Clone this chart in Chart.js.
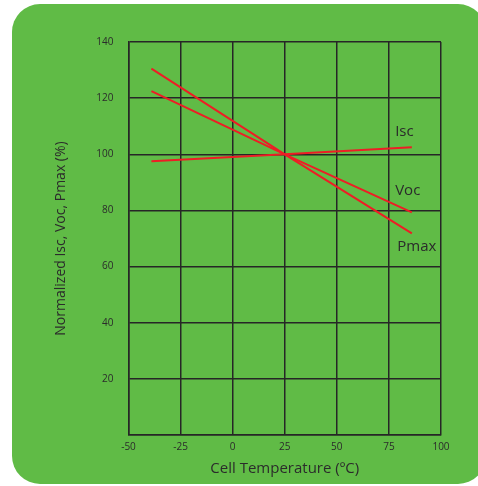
<!DOCTYPE html>
<html>
<head>
<meta charset="utf-8">
<script src="https://cdn.jsdelivr.net/npm/chart.js@4"></script>
<style>
  html, body { margin: 0; padding: 0; background: #fff; }
  #wrap { position: relative; width: 478px; height: 486px; overflow: hidden; }
  #card { position: absolute; left: 12px; top: 4px; width: 474px; height: 480px;
          background: #60bb46; border-radius: 28px; }
  #myChart { position: absolute; left: 0; top: 0; }
</style>
</head>
<body>
<div id="wrap">
  <div id="card"></div>
  <canvas id="myChart" width="478" height="486"></canvas>
</div>
<script>
  // temperatures (deg C) where each line was read
  const temps = [-39, 25, 86];
  const isc = [97.5, 100, 102.5];
  const voc = [122.5, 100, 79.3];
  const pmax = [130.5, 100, 71.8];

  const xTicks = [-50, -25, 0, 25, 50, 75, 100];
  const yTicks = [0, 20, 40, 60, 80, 100, 120, 140];

  // series names and where they are written (data coords)
  const seriesNames = ['Isc', 'Voc', 'Pmax'];
  const nameX = [78, 78, 79];
  const nameY = [108.2, 87.1, 67.1];

  const red = '#ee1d25';
  const gridColor = '#262626';
  const textColor = '#2b2b2b';
  const fam = '"Open Sans", "DejaVu Sans", sans-serif';

  function mk(label, vals) {
    return {
      label: label,
      data: temps.map((t, i) => ({ x: t, y: vals[i] })),
      borderColor: red,
      borderWidth: 2,
      pointRadius: 0,
      tension: 0,
      fill: false
    };
  }

  const namesPlugin = {
    id: 'names',
    afterDatasetsDraw(chart) {
      const ctx = chart.ctx;
      const xs = chart.scales.x, ys = chart.scales.y;
      ctx.save();
      ctx.fillStyle = textColor;
      ctx.font = '15px ' + fam;
      ctx.textAlign = 'left';
      ctx.textBaseline = 'middle';
      seriesNames.forEach((n, i) => {
        ctx.fillText(n, xs.getPixelForValue(nameX[i]), ys.getPixelForValue(nameY[i]));
      });
      ctx.restore();
    }
  };

  const config = {
    type: 'line',
    data: {
      datasets: [mk('Isc', isc), mk('Voc', voc), mk('Pmax', pmax)]
    },
    options: {
      responsive: false,
      animation: false,
      layout: { padding: { left: 0, top: 42, right: 37, bottom: 0 } },
      plugins: { legend: { display: false }, tooltip: { enabled: false } },
      scales: {
        x: {
          type: 'linear',
          min: -50, max: 100,
          afterFit: s => { s.height = 51; },
          afterBuildTicks: s => { s.ticks = xTicks.map(v => ({ value: v })); },
          grid: { color: gridColor, lineWidth: 1.5, drawTicks: false },
          border: { color: gridColor, width: 1.5 },
          ticks: { color: textColor, font: { family: fam, size: 10 }, padding: 6, maxRotation: 0 },
          title: {
            display: true,
            text: 'Cell Temperature (ºC)',
            color: textColor,
            font: { family: fam, size: 15 },
            padding: { top: 0, bottom: 8 }
          }
        },
        y: {
          min: 0, max: 140,
          afterFit: s => { s.width = 128.5; },
          afterBuildTicks: s => { s.ticks = yTicks.map(v => ({ value: v })); },
          grid: { color: gridColor, lineWidth: 1.5, drawTicks: false },
          border: { color: gridColor, width: 1.5 },
          ticks: {
            color: textColor, font: { family: fam, size: 10 }, padding: 15,
            callback: v => v === 0 ? '' : v
          },
          title: {
            display: true,
            text: 'Normalized Isc, Voc, Pmax (%)',
            color: textColor,
            font: { family: fam, size: 14 },
            padding: { top: 53, bottom: 0 }
          }
        }
      }
    },
    plugins: [namesPlugin]
  };

  const myChart = new Chart(document.getElementById('myChart'), config);
</script>
</body>
</html>
